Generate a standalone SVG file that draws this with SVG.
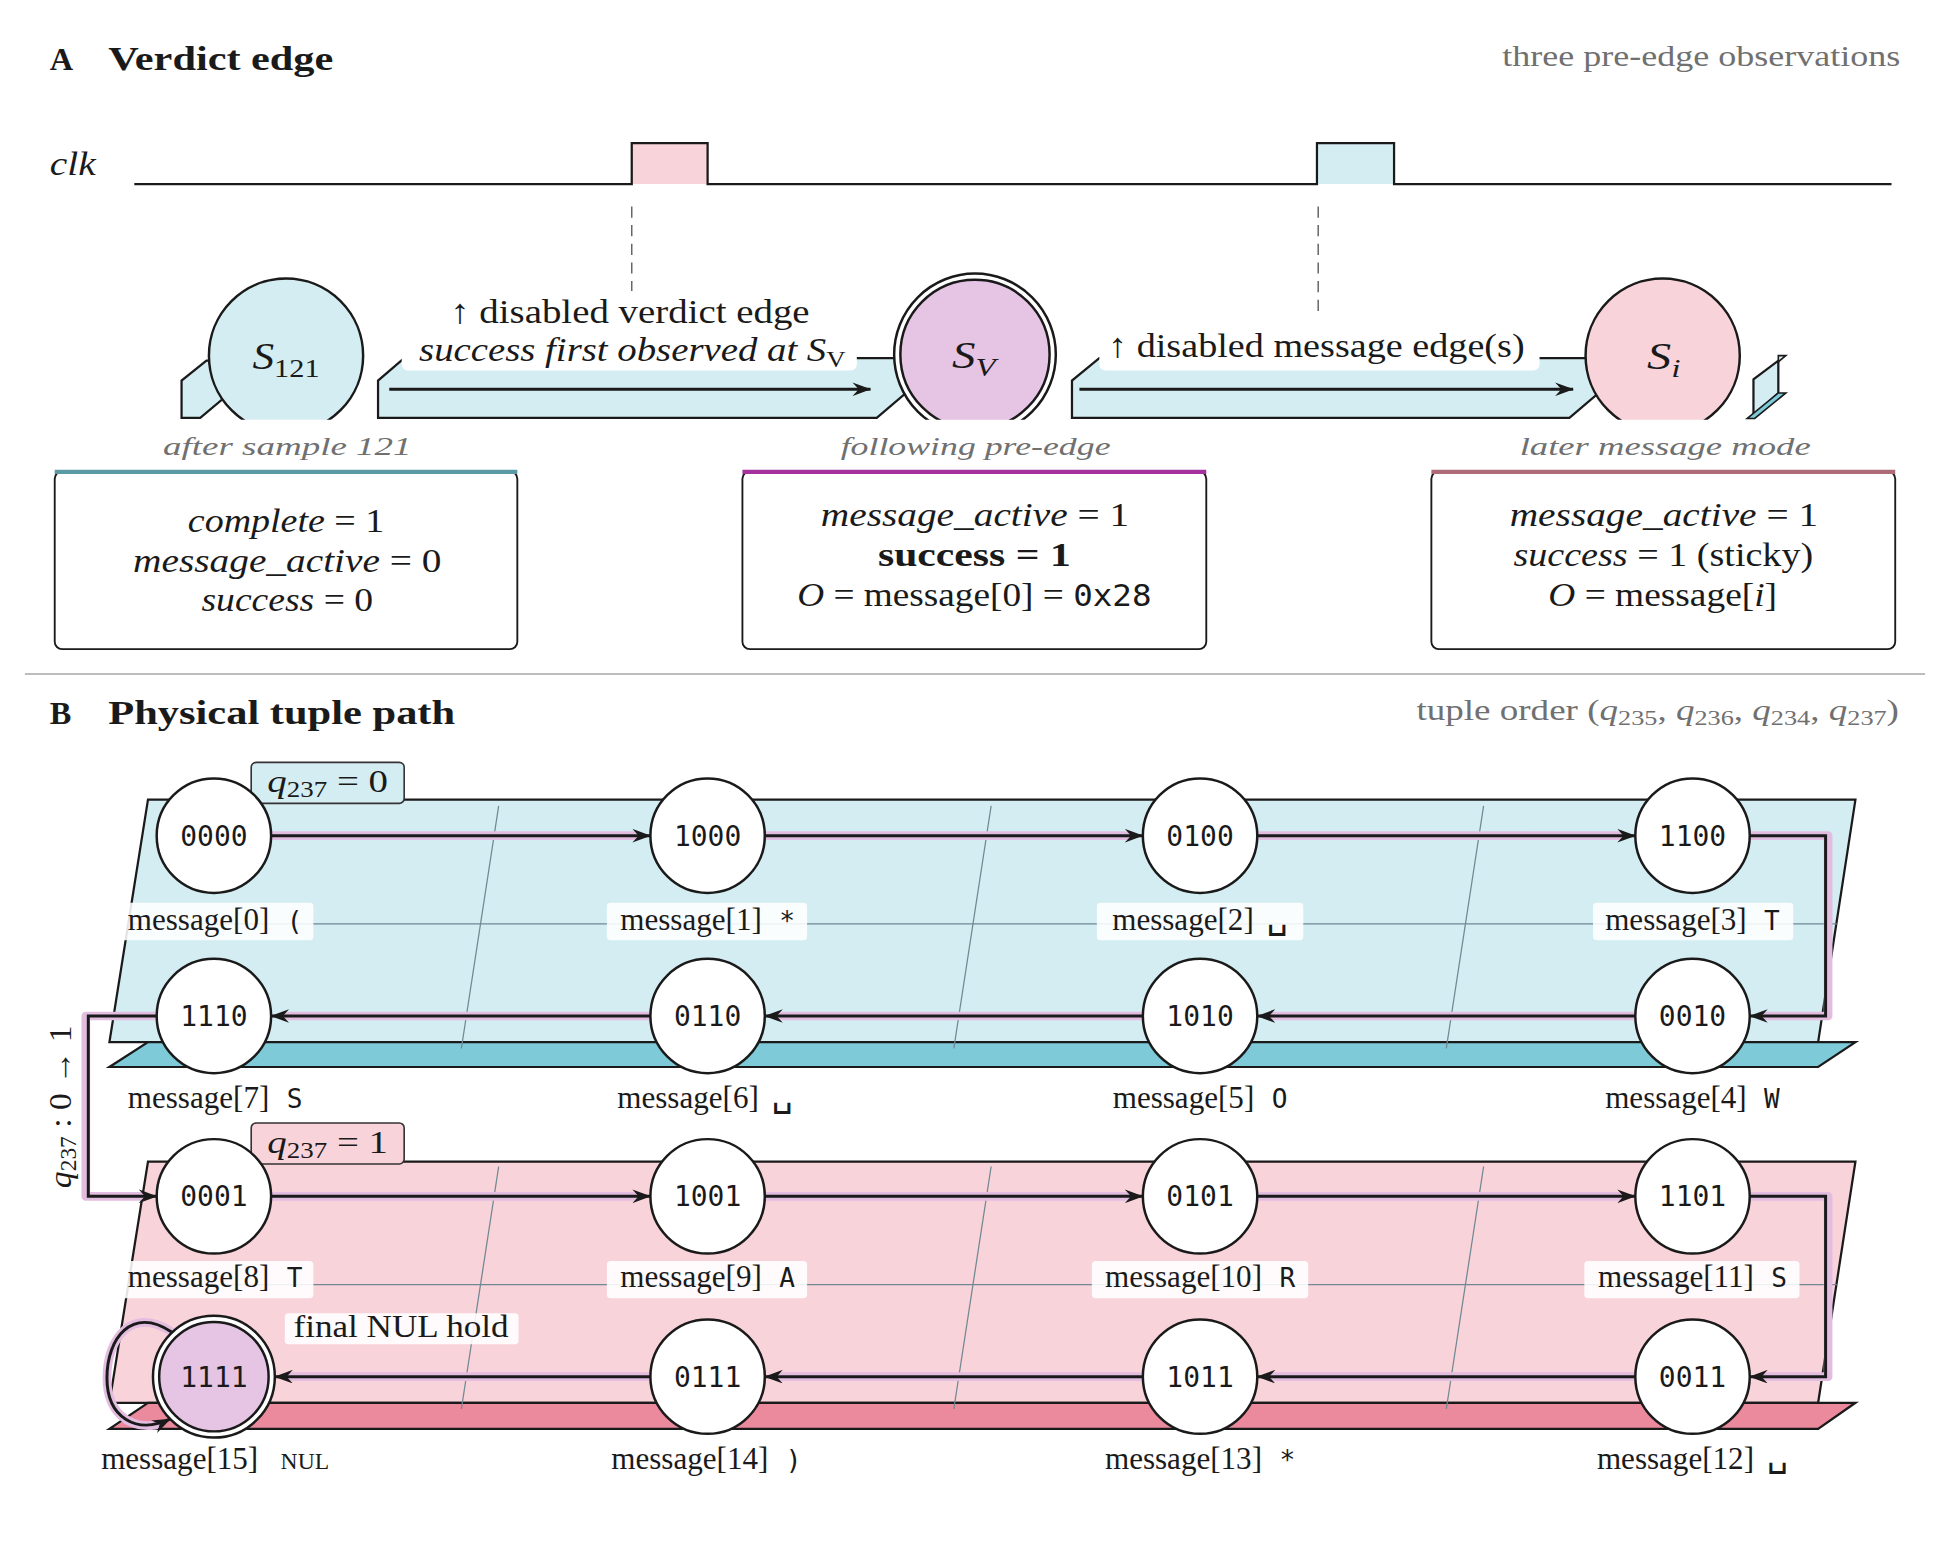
<svg xmlns="http://www.w3.org/2000/svg" width="1940" height="1544" viewBox="0 0 1940 1544">
<defs>
<style>
text{font-family:"Liberation Serif","Times New Roman",serif;fill:#1a1a1a}
.b{font-weight:bold}
.i{font-style:italic}
.tt{font-family:"DejaVu Sans Mono","Liberation Mono",monospace}
.gray{fill:#707070}
.node{fill:#fff;stroke:#1a1a1a;stroke-width:2}
.band{fill:#d4edf2;stroke:#1a1a1a;stroke-width:1.8}
.halo{fill:none;stroke:#e2bde0;stroke-width:7;stroke-linecap:round;stroke-linejoin:round}
.edge{fill:none;stroke:#1a1a1a;stroke-width:2.4;marker-end:url(#arr)}
.grid{stroke:#6f8893;stroke-width:1;fill:none}
.lbox{fill:#fff;fill-opacity:0.88}
.nt{font-size:22.5px;text-anchor:middle}
.lab{font-size:25px;text-anchor:middle}
.ch{font-size:21px}
.vs{font-size:29px;font-family:"Liberation Mono","DejaVu Sans Mono",monospace}
.obs{font-size:27.5px;text-anchor:middle}
.cap{font-size:21px;text-anchor:middle;font-style:italic;fill:#707070}
.box{fill:#fff;stroke:#1a1a1a;stroke-width:1.5}
</style>
<marker id="arr" viewBox="0 0 15 11" refX="14.5" refY="5.5" markerWidth="15" markerHeight="11" markerUnits="userSpaceOnUse" orient="auto">
<path d="M0,0 L15,5.5 L0,11 L5,5.5 Z" fill="#1a1a1a"/>
</marker>
<clipPath id="clipA"><rect x="0" y="0" width="1560" height="337.5"/></clipPath>
</defs>
<rect width="1940" height="1544" fill="#fff"/>
<g transform="scale(1.24359)">

<!-- ============ PANEL A ============ -->
<g id="header-A">
<text x="40" y="56" class="b" font-size="26">A</text>
<text x="87" y="56" class="b" font-size="27.5" textLength="181" lengthAdjust="spacingAndGlyphs">Verdict edge</text>
<text x="1528" y="53" class="gray" font-size="24" text-anchor="end" textLength="320" lengthAdjust="spacingAndGlyphs">three pre-edge observations</text>
</g>

<g id="clock">
<text x="40" y="141" class="i" font-size="27" textLength="37" lengthAdjust="spacingAndGlyphs">clk</text>
<rect x="508" y="115" width="61" height="33" fill="#f9d3da"/>
<rect x="1059" y="115" width="62" height="33" fill="#d4edf2"/>
<path d="M108,148 H508 V115 H569 V148 H1059 V115 H1121 V148 H1521" fill="none" stroke="#1a1a1a" stroke-width="1.8"/>
<line x1="508" y1="166" x2="508" y2="236" stroke="#666" stroke-width="1.2" stroke-dasharray="9,6"/>
<line x1="1060" y1="166" x2="1060" y2="252" stroke="#666" stroke-width="1.2" stroke-dasharray="9,6"/>
</g>

<g id="bands-A">
<polygon class="band" points="146,336 146,306 166,290 198,290 198,305 161,336"/>
<polygon class="band" points="304,336 304,306 325,288 745,288 745,302 705,336"/>
<polygon class="band" points="862,336 862,306 884,288 1302,288 1302,302 1262,336"/>
<polygon class="band" points="1410,334 1410,305 1430,290 1430,316"/>
<polygon points="1430,286 1436,286 1430,291" fill="#d4edf2" stroke="#1a1a1a" stroke-width="1.3"/>
<polygon points="1405,336.5 1430,316 1436,316 1411,336.5" fill="#7ecad8" stroke="#1a1a1a" stroke-width="1.3"/>
</g>

<g id="connectors-A">
<path class="edge" d="M313,313 H700"/>
<path class="edge" d="M868,313 H1265"/>
<rect x="323" y="234" width="366" height="64" rx="5" fill="#fff"/>
<text x="506.5" y="260" font-size="27.5" text-anchor="middle" textLength="289" lengthAdjust="spacingAndGlyphs">↑ disabled verdict edge</text>
<text x="508.5" y="290" font-size="27.5" text-anchor="middle" textLength="343" lengthAdjust="spacingAndGlyphs"><tspan class="i">success first observed at S</tspan><tspan font-size="19" dy="5">V</tspan></text>
<rect x="884" y="252" width="354" height="46" rx="5" fill="#fff"/>
<text x="1058.5" y="287" font-size="27.5" text-anchor="middle" textLength="335" lengthAdjust="spacingAndGlyphs">↑ disabled message edge(s)</text>
</g>

<g clip-path="url(#clipA)">
<g id="node-S121">
<circle cx="230" cy="286" r="62" fill="#d4edf2" stroke="#1a1a1a" stroke-width="2"/>
<text x="230" y="297" font-size="30" text-anchor="middle" textLength="54" lengthAdjust="spacingAndGlyphs"><tspan class="i">S</tspan><tspan font-size="21" dy="6">121</tspan></text>
</g>
<g id="node-SV">
<circle cx="784" cy="285" r="65" fill="#fff" stroke="#1a1a1a" stroke-width="2"/>
<circle cx="784" cy="285" r="60" fill="#e6c4e3" stroke="#1a1a1a" stroke-width="2"/>
<text x="783" y="296" font-size="30" text-anchor="middle" textLength="35" lengthAdjust="spacingAndGlyphs"><tspan class="i">S</tspan><tspan class="i" font-size="21" dy="6">V</tspan></text>
</g>
<g id="node-Si">
<circle cx="1337" cy="286" r="62" fill="#f9d3da" stroke="#1a1a1a" stroke-width="2"/>
<text x="1338" y="297" font-size="30" text-anchor="middle" textLength="27" lengthAdjust="spacingAndGlyphs"><tspan class="i">S</tspan><tspan class="i" font-size="21" dy="6">i</tspan></text>
</g>
</g>

<g id="obs-1">
<text class="cap" x="231" y="366" textLength="200" lengthAdjust="spacingAndGlyphs">after sample 121</text>
<rect class="box" x="44" y="379" width="372" height="143" rx="6"/>
<line x1="44" y1="379.5" x2="416" y2="379.5" stroke="#5b9aa5" stroke-width="3.5"/>
<text class="obs" x="230" y="428" textLength="158" lengthAdjust="spacingAndGlyphs"><tspan class="i">complete</tspan> = 1</text>
<text class="obs" x="231" y="460" textLength="248" lengthAdjust="spacingAndGlyphs"><tspan class="i">message_active</tspan> = 0</text>
<text class="obs" x="231" y="491" textLength="138" lengthAdjust="spacingAndGlyphs"><tspan class="i">success</tspan> = 0</text>
</g>

<g id="obs-2">
<text class="cap" x="784.5" y="366" textLength="217" lengthAdjust="spacingAndGlyphs">following pre-edge</text>
<rect class="box" x="597" y="379" width="373" height="143" rx="6"/>
<line x1="597" y1="379.5" x2="970" y2="379.5" stroke="#a3329c" stroke-width="3.5"/>
<text class="obs" x="784" y="423" textLength="248" lengthAdjust="spacingAndGlyphs"><tspan class="i">message_active</tspan> = 1</text>
<text class="obs b" x="783.5" y="455" textLength="155" lengthAdjust="spacingAndGlyphs">success = 1</text>
<text class="obs" x="783.5" y="487" textLength="285" lengthAdjust="spacingAndGlyphs"><tspan class="i">O</tspan> = message[0] = <tspan class="tt" font-size="24">0x28</tspan></text>
</g>

<g id="obs-3">
<text class="cap" x="1339" y="366" textLength="234" lengthAdjust="spacingAndGlyphs">later message mode</text>
<rect class="box" x="1151" y="379" width="373" height="143" rx="6"/>
<line x1="1151" y1="379.5" x2="1524" y2="379.5" stroke="#ad6b78" stroke-width="3.5"/>
<text class="obs" x="1338" y="423" textLength="248" lengthAdjust="spacingAndGlyphs"><tspan class="i">message_active</tspan> = 1</text>
<text class="obs" x="1337.5" y="455" textLength="241" lengthAdjust="spacingAndGlyphs"><tspan class="i">success</tspan> = 1 (sticky)</text>
<text class="obs" x="1337" y="487" textLength="184" lengthAdjust="spacingAndGlyphs"><tspan class="i">O</tspan> = message[<tspan class="i">i</tspan>]</text>
</g>

<line id="separator" x1="20" y1="542" x2="1548" y2="542" stroke="#bdbdbd" stroke-width="1.5"/>

<!-- ============ PANEL B ============ -->
<g id="header-B">
<text x="40" y="582" class="b" font-size="26">B</text>
<text x="87" y="582" class="b" font-size="27.5" textLength="279" lengthAdjust="spacingAndGlyphs">Physical tuple path</text>
<text x="1527" y="579" class="gray" font-size="24" text-anchor="end" textLength="388" lengthAdjust="spacingAndGlyphs">tuple order (<tspan class="i">q</tspan><tspan font-size="17" dy="4">235</tspan><tspan dy="-4">, </tspan><tspan class="i">q</tspan><tspan font-size="17" dy="4">236</tspan><tspan dy="-4">, </tspan><tspan class="i">q</tspan><tspan font-size="17" dy="4">234</tspan><tspan dy="-4">, </tspan><tspan class="i">q</tspan><tspan font-size="17" dy="4">237</tspan><tspan dy="-4">)</tspan></text>
<text transform="translate(57,890) rotate(-90)" font-size="26" text-anchor="middle" textLength="131" lengthAdjust="spacingAndGlyphs"><tspan class="i">q</tspan><tspan font-size="18" dy="4">237</tspan><tspan dy="-4"> : 0 → 1</tspan></text>
</g>

<g id="plane-q0">
<polygon points="119,643 1492,643 1462,838 88,838" fill="#d4edf2" stroke="#1a1a1a" stroke-width="1.8"/>
<polygon points="119,838 1492,838 1462,858 88,858" fill="#7ecad8" stroke="#1a1a1a" stroke-width="1.8"/>
<line class="grid" x1="103" y1="743" x2="1477" y2="743"/>
<line class="grid" x1="401" y1="648" x2="371" y2="843"/>
<line class="grid" x1="797" y1="648" x2="767" y2="843"/>
<line class="grid" x1="1193" y1="648" x2="1163" y2="843"/>
<rect x="202" y="613" width="123" height="33" rx="4" fill="#d4edf2" stroke="#333" stroke-width="1.3"/>
<text x="263.5" y="637" font-size="26" text-anchor="middle" textLength="97" lengthAdjust="spacingAndGlyphs"><tspan class="i">q</tspan><tspan font-size="18" dy="4">237</tspan><tspan dy="-4"> = 0</tspan></text>
</g>

<g id="plane-q1">
<polygon points="119,934 1492,934 1462,1128 88,1128" fill="#f9d3da" stroke="#1a1a1a" stroke-width="1.8"/>
<polygon points="119,1128 1492,1128 1462,1149 88,1149" fill="#ea8a9c" stroke="#1a1a1a" stroke-width="1.8"/>
<line class="grid" x1="103" y1="1033" x2="1477" y2="1033"/>
<line class="grid" x1="401" y1="938" x2="371" y2="1133"/>
<line class="grid" x1="797" y1="938" x2="767" y2="1133"/>
<line class="grid" x1="1193" y1="938" x2="1163" y2="1133"/>
<rect x="202" y="903" width="123" height="33" rx="4" fill="#f9d3da" stroke="#333" stroke-width="1.3"/>
<text x="263.5" y="927" font-size="26" text-anchor="middle" textLength="97" lengthAdjust="spacingAndGlyphs"><tspan class="i">q</tspan><tspan font-size="18" dy="4">237</tspan><tspan dy="-4"> = 1</tspan></text>
</g>

<g id="connectors-B">
<g id="halos">
<path class="halo" d="M218,672 H510"/>
<path class="halo" d="M615,672 H906"/>
<path class="halo" d="M1011,672 H1302"/>
<path class="halo" d="M1407,672 H1470 V817 H1420"/>
<path class="halo" d="M1315,817 H1024"/>
<path class="halo" d="M919,817 H628"/>
<path class="halo" d="M523,817 H231"/>
<path class="halo" d="M126,817 H69 V962 H113"/>
<path class="halo" d="M218,962 H510"/>
<path class="halo" d="M615,962 H906"/>
<path class="halo" d="M1011,962 H1302"/>
<path class="halo" d="M1407,962 H1470 V1107 H1420"/>
<path class="halo" d="M1315,1107 H1024"/>
<path class="halo" d="M919,1107 H628"/>
<path class="halo" d="M523,1107 H234"/>
<path class="halo" d="M138,1071 C106,1050 86,1076 86,1108 C86,1135 103,1149 125,1146"/>
</g>
<path class="edge" d="M218,672 H523"/>
<path class="edge" d="M615,672 H919"/>
<path class="edge" d="M1011,672 H1315"/>
<path class="edge" d="M1407,672 H1468 V817 H1407"/>
<path class="edge" d="M1315,817 H1011"/>
<path class="edge" d="M919,817 H615"/>
<path class="edge" d="M523,817 H218"/>
<path class="edge" d="M126,817 H71 V962 H126"/>
<path class="edge" d="M218,962 H523"/>
<path class="edge" d="M615,962 H919"/>
<path class="edge" d="M1011,962 H1315"/>
<path class="edge" d="M1407,962 H1468 V1107 H1407"/>
<path class="edge" d="M1315,1107 H1011"/>
<path class="edge" d="M919,1107 H615"/>
<path class="edge" d="M523,1107 H221"/>
<path class="edge" d="M138,1071 C106,1050 86,1076 86,1108 C86,1140 110,1154 137,1141"/>
</g>

<g id="node-0000"><circle class="node" cx="172" cy="672" r="46"/><text class="nt tt" x="172" y="680">0000</text></g>
<g id="node-1000"><circle class="node" cx="569" cy="672" r="46"/><text class="nt tt" x="569" y="680">1000</text></g>
<g id="node-0100"><circle class="node" cx="965" cy="672" r="46"/><text class="nt tt" x="965" y="680">0100</text></g>
<g id="node-1100"><circle class="node" cx="1361" cy="672" r="46"/><text class="nt tt" x="1361" y="680">1100</text></g>
<g id="node-1110"><circle class="node" cx="172" cy="817" r="46"/><text class="nt tt" x="172" y="825">1110</text></g>
<g id="node-0110"><circle class="node" cx="569" cy="817" r="46"/><text class="nt tt" x="569" y="825">0110</text></g>
<g id="node-1010"><circle class="node" cx="965" cy="817" r="46"/><text class="nt tt" x="965" y="825">1010</text></g>
<g id="node-0010"><circle class="node" cx="1361" cy="817" r="46"/><text class="nt tt" x="1361" y="825">0010</text></g>
<g id="node-0001"><circle class="node" cx="172" cy="962" r="46"/><text class="nt tt" x="172" y="970">0001</text></g>
<g id="node-1001"><circle class="node" cx="569" cy="962" r="46"/><text class="nt tt" x="569" y="970">1001</text></g>
<g id="node-0101"><circle class="node" cx="965" cy="962" r="46"/><text class="nt tt" x="965" y="970">0101</text></g>
<g id="node-1101"><circle class="node" cx="1361" cy="962" r="46"/><text class="nt tt" x="1361" y="970">1101</text></g>
<g id="node-1111"><circle class="node" cx="172" cy="1107" r="49"/><circle cx="172" cy="1107" r="44" fill="#e6c4e3" stroke="#1a1a1a" stroke-width="2"/><text class="nt tt" x="172" y="1115">1111</text></g>
<g id="node-0111"><circle class="node" cx="569" cy="1107" r="46"/><text class="nt tt" x="569" y="1115">0111</text></g>
<g id="node-1011"><circle class="node" cx="965" cy="1107" r="46"/><text class="nt tt" x="965" y="1115">1011</text></g>
<g id="node-0011"><circle class="node" cx="1361" cy="1107" r="46"/><text class="nt tt" x="1361" y="1115">0011</text></g>

<g id="labels-B">
<rect class="lbox" x="97" y="726" width="155" height="30" rx="3"/>
<rect class="lbox" x="488" y="726" width="161" height="30" rx="3"/>
<rect class="lbox" x="882" y="726" width="166" height="30" rx="3"/>
<rect class="lbox" x="1281" y="726" width="161" height="30" rx="3"/>
<text class="lab" x="173" y="748">message[0]<tspan class="tt ch" dx="14">(</tspan></text>
<text class="lab" x="569" y="748">message[1]<tspan class="tt ch" dx="14">*</tspan></text>
<text class="lab" x="965" y="748">message[2]<tspan class="vs" dx="10" dy="-2">␣</tspan></text>
<text class="lab" x="1361" y="748">message[3]<tspan class="tt ch" dx="14">T</tspan></text>

<text class="lab" x="173" y="891">message[7]<tspan class="tt ch" dx="14">S</tspan></text>
<text class="lab" x="567" y="891">message[6]<tspan class="vs" dx="10" dy="-2">␣</tspan></text>
<text class="lab" x="965" y="891">message[5]<tspan class="tt ch" dx="14">O</tspan></text>
<text class="lab" x="1361" y="891">message[4]<tspan class="tt ch" dx="14">W</tspan></text>

<rect class="lbox" x="97" y="1014" width="155" height="30" rx="3"/>
<rect class="lbox" x="488" y="1014" width="161" height="30" rx="3"/>
<rect class="lbox" x="878" y="1014" width="174" height="30" rx="3"/>
<rect class="lbox" x="1274" y="1014" width="173" height="30" rx="3"/>
<text class="lab" x="173" y="1035">message[8]<tspan class="tt ch" dx="14">T</tspan></text>
<text class="lab" x="569" y="1035">message[9]<tspan class="tt ch" dx="14">A</tspan></text>
<text class="lab" x="965" y="1035">message[10]<tspan class="tt ch" dx="14">R</tspan></text>
<text class="lab" x="1361" y="1035">message[11]<tspan class="tt ch" dx="14">S</tspan></text>

<text class="lab" x="173" y="1181">message[15]<tspan font-size="19" dx="18">NUL</tspan></text>
<text class="lab" x="568" y="1181">message[14]<tspan class="tt ch" dx="14">)</tspan></text>
<text class="lab" x="965" y="1181">message[13]<tspan class="tt ch" dx="14">*</tspan></text>
<text class="lab" x="1361" y="1181">message[12]<tspan class="vs" dx="10" dy="-2">␣</tspan></text>

<rect class="lbox" x="229" y="1056" width="188" height="25" rx="3"/>
<text x="236" y="1075" font-size="25" textLength="173" lengthAdjust="spacingAndGlyphs">final NUL hold</text>
</g>

</g>
</svg>
